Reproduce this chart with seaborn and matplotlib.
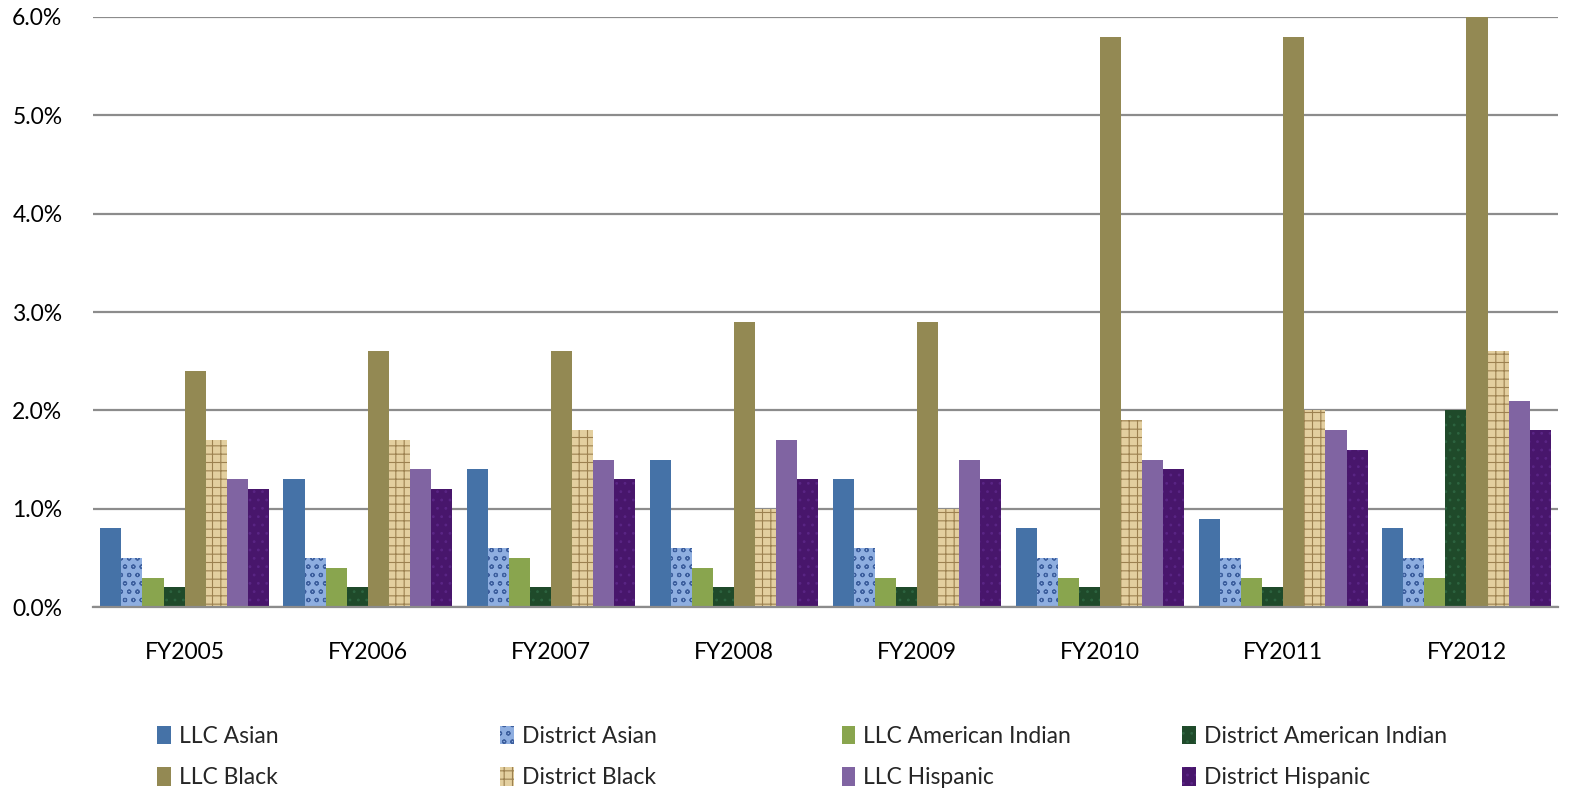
import pandas as pd
import matplotlib.pyplot as plt
import seaborn as sns
from matplotlib.ticker import FuncFormatter

# ==============================
# Dados
# ==============================
years = ['FY2005', 'FY2006', 'FY2007', 'FY2008', 'FY2009', 'FY2010', 'FY2011', 'FY2012']
series = ['LLC Asian', 'District Asian', 'LLC American Indian', 'District American Indian',
          'LLC Black', 'District Black', 'LLC Hispanic', 'District Hispanic']

llc_asian = [0.8, 1.3, 1.4, 1.5, 1.3, 0.8, 0.9, 0.8]
district_asian = [0.5, 0.5, 0.6, 0.6, 0.6, 0.5, 0.5, 0.5]
llc_am_indian = [0.3, 0.4, 0.5, 0.4, 0.3, 0.3, 0.3, 0.3]
district_am_indian = [0.2, 0.2, 0.2, 0.2, 0.2, 0.2, 0.2, 2.0]
llc_black = [2.4, 2.6, 2.6, 2.9, 2.9, 5.8, 5.8, 6.0]
district_black = [1.7, 1.7, 1.8, 1.0, 1.0, 1.9, 2.0, 2.6]
llc_hispanic = [1.3, 1.4, 1.5, 1.7, 1.5, 1.5, 1.8, 2.1]
district_hispanic = [1.2, 1.2, 1.3, 1.3, 1.3, 1.4, 1.6, 1.8]

valores = [llc_asian, district_asian, llc_am_indian, district_am_indian,
           llc_black, district_black, llc_hispanic, district_hispanic]

cores = ['#4572a7', '#8eaee0', '#89a54e', '#1f4a2a',
         '#938953', '#e3cf9f', '#8064a2', '#48166c']
# textura aproximada das séries "District"
hachuras = [None, 'oo', None, '..', None, '++', None, '..']
cores_hachura = [None, '#3d5f9e', None, '#2d6440', None, '#9c8150', None, '#5a2585']

# Formato longo
linhas = []
for nome, vals in zip(series, valores):
    for ano, v in zip(years, vals):
        linhas.append({'ano': ano, 'serie': nome, 'valor': v})
df = pd.DataFrame(linhas)

# ==============================
# Gráfico
# ==============================
sns.set_style('white')
plt.rcParams['font.family'] = ['Lato', 'DejaVu Sans']
plt.rcParams['hatch.linewidth'] = 0.8

fig = plt.figure(figsize=(15.85, 7.94), dpi=100)
ax = fig.add_axes([0.0587, 0.2355, 0.9243, 0.7431])

sns.barplot(data=df, x='ano', y='valor', hue='serie', hue_order=series,
            palette=cores, width=0.92, saturation=1, ax=ax, legend=False,
            errorbar=None)

for cont, h, hc in zip(ax.containers, hachuras, cores_hachura):
    for barra in cont:
        barra.set_linewidth(0)
        if h:
            barra.set_hatch(h)
            barra.set_edgecolor(hc)

ax.set_ylim(0, 6)
ax.set_yticks([0, 1, 2, 3, 4, 5, 6])
ax.yaxis.set_major_formatter(FuncFormatter(lambda v, p: f'{v:.1f}%'))
ax.grid(axis='y', color='#8c8c8c', linewidth=1.6)
ax.set_axisbelow(True)
for lado in ['top', 'right', 'left']:
    ax.spines[lado].set_visible(False)
ax.spines['bottom'].set_color('#8c8c8c')
ax.spines['bottom'].set_linewidth(1.6)
ax.tick_params(axis='both', length=0, labelsize=16.5, colors='black')
ax.tick_params(axis='x', pad=25)
ax.tick_params(axis='y', pad=22)
ax.set_xlabel('')
ax.set_ylabel('')
ax.set_xlim(-0.5, 7.5)

# Legenda: 2 linhas x 4 colunas, colunas com espaçamento fixo
handles = list(ax.containers)
xs_legenda = [0.0989, 0.3157, 0.531, 0.746]
for i, x in enumerate(xs_legenda):
    leg = fig.legend([handles[i], handles[i + 4]], [series[i], series[i + 4]],
                     loc='center left', bbox_to_anchor=(x, 0.0465),
                     frameon=False, fontsize=16.5, handlelength=0.6, handleheight=0.85,
                     handletextpad=0.35, labelspacing=0.9,
                     borderpad=0, borderaxespad=0)

plt.savefig('out.png', dpi=100)
